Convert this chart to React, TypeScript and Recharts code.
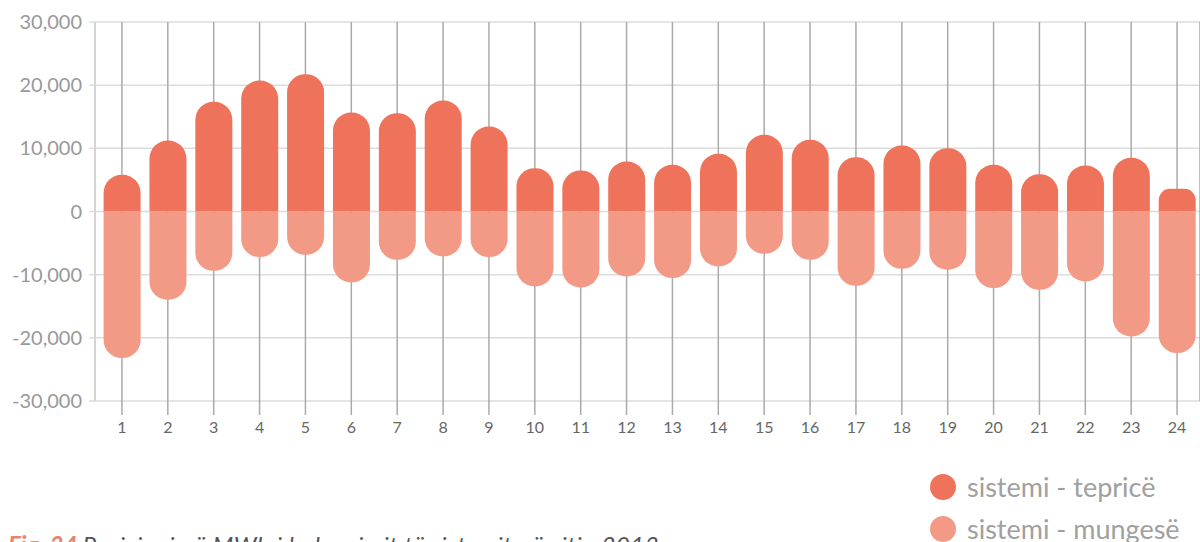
import React from "react";
import { BarChart, Bar, XAxis, YAxis, CartesianGrid } from "recharts";

const hours = ["1","2","3","4","5","6","7","8","9","10","11","12","13","14","15","16","17","18","19","20","21","22","23","24"];
const teprice = [5810, 11230, 17360, 20730, 21740, 15660, 15570, 17560, 13450, 6860, 6490, 7910, 7390, 9130, 12140, 11340, 8600, 10440, 10020, 7390, 5910, 7280, 8500, 3590];
const mungese = [-23200, -13970, -9380, -7220, -6850, -11230, -7640, -7120, -7220, -11870, -12020, -10280, -10540, -8700, -6690, -7640, -11760, -9070, -9220, -12130, -12390, -11070, -19780, -22410];
const yTicks = [-30000, -20000, -10000, 0, 10000, 20000, 30000];
const seriesNames = ["sistemi - tepricë", "sistemi - mungesë"];
const colors = ["#EE735A", "#F39A86"];
const caption = "Pozicioni në MWh i balancimit të sistemit në vitin 2013";

const data = hours.map((h, i) => ({ hour: h, teprice: teprice[i], mungese: mungese[i] }));

const font = "Lato, 'Open Sans', sans-serif";

export default function App() {
  return (
    <div style={{ position: "absolute", left: 0, top: 0, width: 1200, height: 542, overflow: "hidden", background: "#fff", fontFamily: font }}>
      <BarChart
        width={1200}
        height={450}
        data={data}
        stackOffset="sign"
        barCategoryGap="10%"
        margin={{ top: 22, right: 0, left: 8, bottom: 0 }}
      >
        <CartesianGrid horizontal={true} vertical={false} stroke="#dcdcdc" strokeWidth={1.5} />
        <CartesianGrid horizontal={false} vertical={true} stroke="#aaaaaa" strokeWidth={1.5} />
        <XAxis
          dataKey="hour"
          axisLine={false}
          tickLine={{ stroke: "#aaaaaa", strokeWidth: 1.5 }}
          tickSize={14}
          tickMargin={7}
          height={49}
          interval={0}
          padding={{ left: 4, right: 0 }}
          tick={{ fill: "#666666", fontSize: 16, fontFamily: font }}
        />
        <YAxis
          type="number"
          domain={[-30000, 30000]}
          ticks={yTicks}
          width={87}
          axisLine={{ stroke: "#dcdcdc", strokeWidth: 1.5 }}
          tickLine={{ stroke: "#dcdcdc", strokeWidth: 1.5 }}
          tickSize={6}
          tickMargin={7}
          tickFormatter={(v: number) => v.toLocaleString("en-US")}
          tick={{ fill: "#999999", fontSize: 20, fontFamily: font }}
        />
        <Bar dataKey="teprice" stackId="a" fill={colors[0]} radius={[18, 18, 0, 0]} isAnimationActive={false} />
        <Bar dataKey="mungese" stackId="a" fill={colors[1]} radius={[18, 18, 0, 0]} isAnimationActive={false} />
      </BarChart>
      {seriesNames.map((name, i) => (
        <div key={name} style={{ position: "absolute", left: 930, top: 474 + i * 42, height: 26, display: "flex", alignItems: "center" }}>
          <span style={{ width: 26, height: 26, borderRadius: 13, background: colors[i], display: "inline-block" }} />
          <span style={{ marginLeft: 11, fontSize: 27, color: "#a0a0a0", whiteSpace: "nowrap", lineHeight: "26px" }}>{name}</span>
        </div>
      ))}
      <div style={{ position: "absolute", left: 8, top: 531, fontSize: 24, whiteSpace: "nowrap", lineHeight: "28px" }}>
        <span style={{ color: "#E9836E", fontWeight: 700, fontStyle: "italic" }}>Fig. 34 </span>
        <span style={{ color: "#555555", fontStyle: "italic", letterSpacing: 0.5 }}>{caption}</span>
      </div>
    </div>
  );
}
